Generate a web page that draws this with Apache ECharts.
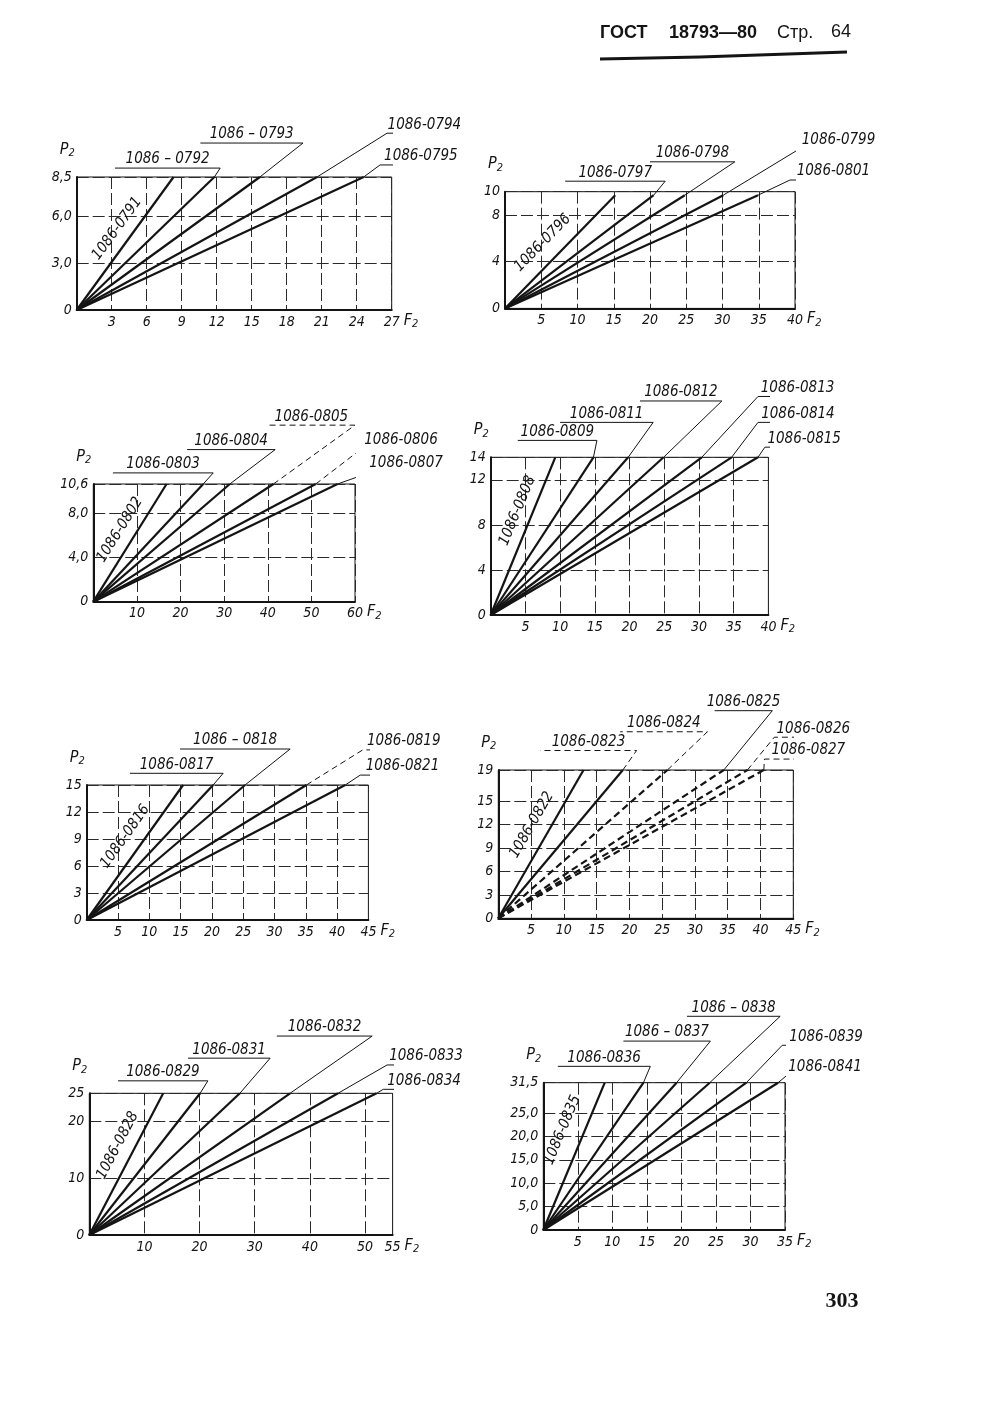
<!DOCTYPE html>
<html><head><meta charset="utf-8">
<script src="https://cdn.jsdelivr.net/npm/echarts@6/dist/echarts.min.js"></script>
<style>html,body{margin:0;padding:0;background:#fff}#c{width:1000px;height:1415px}</style>
</head><body><div id="c"></div>
<script>
// ---------- DATA ----------
// Each line runs from the origin to its end point F (at the top P value of its chart)
const names1 = ['1086-0791','1086 – 0792','1086 – 0793','1086-0794','1086-0795'];
const ends1  = [8.3, 11.8, 15.7, 20.6, 24.6];
const pTop1  = 8.5;
const xTicks1 = [3,6,9,12,15,18,21,24,27];
const yTicks1 = [0,3,6,8.5];

const names2 = ['1086-0796','1086-0797','1086-0798','1086-0799','1086-0801'];
const ends2  = [15.2, 20.5, 24.8, 30.1, 34.9];
const pTop2  = 9.7;
const xTicks2 = [5,10,15,20,25,30,35,40];
const yTicks2 = [0,4,8,10];

const names3 = ['1086-0802','1086-0803','1086-0804','1086-0805','1086-0806','1086-0807'];
const ends3  = [16.8, 25.2, 31.3, 41.3, 51.0, 56.0];
const pTop3  = 10.6;
const xTicks3 = [10,20,30,40,50,60];
const yTicks3 = [0,4,8,10.6];

const names4 = ['1086-0808','1086-0809','1086-0811','1086-0812','1086-0813','1086-0814','1086-0815'];
const ends4  = [9.3, 14.8, 19.8, 24.9, 30.4, 34.7, 38.5];
const pTop4  = 14;
const xTicks4 = [5,10,15,20,25,30,35,40];
const yTicks4 = [0,4,8,12,14];

const names5 = ['1086-0816','1086-0817','1086 – 0818','1086-0819','1086-0821'];
const ends5  = [15.4, 20.2, 25.3, 35.1, 41.3];
const pTop5  = 15;
const xTicks5 = [5,10,15,20,25,30,35,40,45];
const yTicks5 = [0,3,6,9,12,15];

const names6 = ['1086-0822','1086-0823','1086-0824','1086-0825','1086-0826','1086-0827'];
const ends6  = [13.0, 19.0, 25.8, 34.4, 38.0, 40.5];
const pTop6  = 19;
const xTicks6 = [5,10,15,20,25,30,35,40,45];
const yTicks6 = [0,3,6,9,12,15,19];

const names7 = ['1086-0828','1086-0829','1086-0831','1086-0832','1086-0833','1086-0834'];
const ends7  = [13.4, 20.1, 27.3, 36.4, 45.1, 52.1];
const pTop7  = 25;
const xTicks7 = [10,20,30,40,50,55];
const yTicks7 = [0,10,20,25];

const names8 = ['1086-0835','1086-0836','1086 – 0837','1086 – 0838','1086-0839','1086-0841'];
const ends8  = [8.9, 14.5, 19.3, 24.1, 29.4, 34.0];
const pTop8  = 31.5;
const xTicks8 = [5,10,15,20,25,30,35];
const yTicks8 = [0,5,10,15,20,25,31.5];

const xMaxes = [27, 40, 60, 40, 45, 45, 55, 35];
const yMaxes = [8.5, 10, 10.6, 14, 15, 19, 25, 31.5];
const commaDecimals = [true, false, true, false, false, false, false, true];

// ---------- LAYOUT (positions only) ----------
const grids = [
  {left:76.7, top:177,   width:315,   height:133},
  {left:505,  top:191.7, width:290,   height:116.7},
  {left:93.3, top:484,   width:261.7, height:117.7},
  {left:490.7,top:457.3, width:277.7, height:157.7},
  {left:86.7, top:785,   width:281.7, height:135},
  {left:498.3,top:770,   width:295,   height:148.3},
  {left:89.3, top:1093.3,width:303.3, height:141.7},
  {left:543.3,top:1082.7,width:241.7, height:147.3}
];
// inline label centre (axis units) and tag leader anchors [F, P, underline other end F]
const layouts = [
  {inline:[3.88,4.98], tags:[[12.3,9.07,3.28],[19.4,10.67,10.6],[26.6,11.3,33.0],[26.0,9.27,33.0]]},
  {inline:[5.79,5.25], tags:[[22.1,10.9,8.3],[31.7,12.56,20],[40.7,13.7,51.3],[39.3,11.0,51.3]]},
  {inline:[7.27,6.19], tags:[[27.5,11.6,4.5],[41.7,13.7,21.5],[60.0,15.9,40],[61.6,13.8,79.5],[63.9,11.7,79.5]]},
  {inline:[4.65,9.06], tags:[[15.3,15.5,3.9],[23.4,17.1,10],[33.3,19.0,21.5],[38.5,19.4,49.9],[38.5,17.1,50.0],[39.5,14.9,50.8]]},
  {inline:[6.92,8.89], tags:[[21.8,16.3,6.9],[32.5,19.0,14.9],[44.1,18.9,57.2],[43.7,16.1,57.2]]},
  {inline:[5.9,11.58], tags:[[21.1,21.5,6.4],[31.9,23.9,18.6],[41.8,26.6,33.0],[42.1,23.2,54.0],[40.6,20.4,54.0]]},
  {inline:[6.11,15.3], tags:[[21.5,27.2,5.2],[32.8,31.2,17.9],[51.3,35.1,34.0],[54.0,30.0,68.1],[53.3,25.7,68.1]]},
  {inline:[3.58,20.9], tags:[[15.5,35.0,2.1],[24.2,40.4,11.6],[34.3,45.7,20.8],[34.6,39.5,47.3],[35.3,33.1,46.3]]}
];
const INLINE_SHIFT = 6; // extra px away from the line
const dashedLines = ['1086-0824','1086-0825','1086-0826','1086-0827'];
const dashedLeaders = ['1086-0805','1086-0806','1086-0819','1086-0823','1086-0824','1086-0826','1086-0827'];

const charts = [
  {names:names1, ends:ends1, pTop:pTop1, xTicks:xTicks1, yTicks:yTicks1},
  {names:names2, ends:ends2, pTop:pTop2, xTicks:xTicks2, yTicks:yTicks2},
  {names:names3, ends:ends3, pTop:pTop3, xTicks:xTicks3, yTicks:yTicks3},
  {names:names4, ends:ends4, pTop:pTop4, xTicks:xTicks4, yTicks:yTicks4},
  {names:names5, ends:ends5, pTop:pTop5, xTicks:xTicks5, yTicks:yTicks5},
  {names:names6, ends:ends6, pTop:pTop6, xTicks:xTicks6, yTicks:yTicks6},
  {names:names7, ends:ends7, pTop:pTop7, xTicks:xTicks7, yTicks:yTicks7},
  {names:names8, ends:ends8, pTop:pTop8, xTicks:xTicks8, yTicks:yTicks8}
];

const FONT = '"DejaVu Sans Condensed", "Liberation Sans Narrow", "DejaVu Sans", sans-serif';
const INK = '#141414';
const TAG_SIZE = 15;

const chart = echarts.init(document.getElementById('c'), null, {renderer:'canvas'});

const gridOpt = [], xAxes = [], yAxes = [], series = [];
const nameRich = {p:{fontFamily:FONT, fontStyle:'italic', fontSize:16, color:INK},
                  s:{fontFamily:FONT, fontStyle:'italic', fontSize:11, color:INK, padding:[8,0,0,0]}};
charts.forEach((c, i) => {
  gridOpt.push(Object.assign({show:true, borderColor:INK, borderWidth:1, containLabel:false}, grids[i]));
  const yFmt = v => commaDecimals[i] && v !== 0 ? v.toFixed(1).replace('.', ',') : String(v);
  xAxes.push({
    type:'value', gridIndex:i, min:0, max:xMaxes[i],
    name:'{p|F}{s|2}', nameLocation:'end', nameGap:12,
    nameTextStyle:{verticalAlign:'top', padding:[1,0,0,0], rich:nameRich},
    axisLine:{show:true, lineStyle:{color:INK, width:2}},
    axisTick:{show:false, customValues:c.xTicks},
    axisLabel:{customValues:c.xTicks, formatter:v => String(v), fontFamily:FONT, fontStyle:'italic', fontSize:14, color:INK, margin:5},
    splitLine:{show:true, lineStyle:{color:'#2a2a2a', width:1, type:[12,4]}}
  });
  yAxes.push({
    type:'value', gridIndex:i, min:0, max:yMaxes[i],
    name:'{p|P}{s|2}', nameLocation:'end', nameGap:18,
    nameTextStyle:{align:'right', padding:[0,2,0,0], rich:nameRich},
    axisLine:{show:true, lineStyle:{color:INK, width:2}},
    axisTick:{show:false, customValues:c.yTicks},
    axisLabel:{customValues:c.yTicks, formatter:yFmt, fontFamily:FONT, fontStyle:'italic', fontSize:14, color:INK, margin:5},
    splitLine:{show:true, lineStyle:{color:'#2a2a2a', width:1, type:[12,4]}}
  });
  c.names.forEach((nm, k) => {
    series.push({
      type:'line', name:nm, xAxisIndex:i, yAxisIndex:i, symbol:'none', clip:false, silent:true, animation:false,
      data:[[0,0],[c.ends[k], c.pTop]],
      lineStyle:{color:INK, width:2.2, type: dashedLines.includes(nm) ? [7,4] : 'solid'}
    });
    if (k > 0) {
      const t = layouts[i].tags[k-1];
      series.push({
        type:'line', xAxisIndex:i, yAxisIndex:i, symbol:'none', clip:false, silent:true, animation:false,
        data:[[c.ends[k], c.pTop],[t[0], t[1]],[t[2], t[1]]],
        lineStyle:{color:INK, width:1, type: dashedLeaders.includes(nm) ? [6,4] : 'solid'}
      });
    }
  });
});

chart.setOption({animation:false, backgroundColor:'#fff', grid:gridOpt, xAxis:xAxes, yAxis:yAxes, series:series});

// labels placed through the chart's own coordinate conversion
const graphics = [];
charts.forEach((c, i) => {
  const L = layouts[i];
  const p0 = chart.convertToPixel({gridIndex:i}, [0,0]);
  const p1 = chart.convertToPixel({gridIndex:i}, [c.ends[0], c.pTop]);
  const ang = Math.atan2(p0[1]-p1[1], p1[0]-p0[0]);
  const pc = chart.convertToPixel({gridIndex:i}, L.inline);
  const cx = pc[0] - Math.sin(ang) * INLINE_SHIFT, cy = pc[1] - Math.cos(ang) * INLINE_SHIFT;
  graphics.push({type:'text', x:cx, y:cy, rotation:ang, originX:0, originY:0,
    style:{text:c.names[0], fontFamily:FONT, fontStyle:'italic', fontSize:TAG_SIZE, fill:INK, align:'center', verticalAlign:'middle'}});
  L.tags.forEach((t, j) => {
    const a = chart.convertToPixel({gridIndex:i}, [t[0], t[1]]);
    const b = chart.convertToPixel({gridIndex:i}, [t[2], t[1]]);
    graphics.push({type:'text', x:(a[0]+b[0])/2, y:a[1]-1,
      style:{text:c.names[j+1], fontFamily:FONT, fontStyle:'italic', fontSize:TAG_SIZE, fill:INK, align:'center', verticalAlign:'bottom'}});
  });
});
// page header and page number
const HF = '"Liberation Sans", Arial, sans-serif';
graphics.push({type:'text', x:600, y:33, style:{text:'ГОСТ', fontFamily:HF, fontWeight:'bold', fontSize:18, fill:INK, verticalAlign:'middle'}});
graphics.push({type:'text', x:669, y:33, style:{text:'18793—80', fontFamily:HF, fontWeight:'bold', fontSize:18, fill:INK, verticalAlign:'middle'}});
graphics.push({type:'text', x:777, y:33, style:{text:'Стр.', fontFamily:HF, fontSize:18, fill:INK, verticalAlign:'middle'}});
graphics.push({type:'text', x:831, y:32, style:{text:'64', fontFamily:HF, fontSize:18, fill:INK, verticalAlign:'middle'}});
graphics.push({type:'polyline', shape:{points:[[600,59],[700,57],[847,52]]}, style:{stroke:INK, lineWidth:3, fill:null}});
graphics.push({type:'text', x:842, y:1301, style:{text:'303', fontFamily:'"Liberation Serif", "DejaVu Serif", serif', fontWeight:'bold', fontSize:22, fill:INK, align:'center', verticalAlign:'middle'}});

chart.setOption({graphic:graphics});
</script></body></html>
